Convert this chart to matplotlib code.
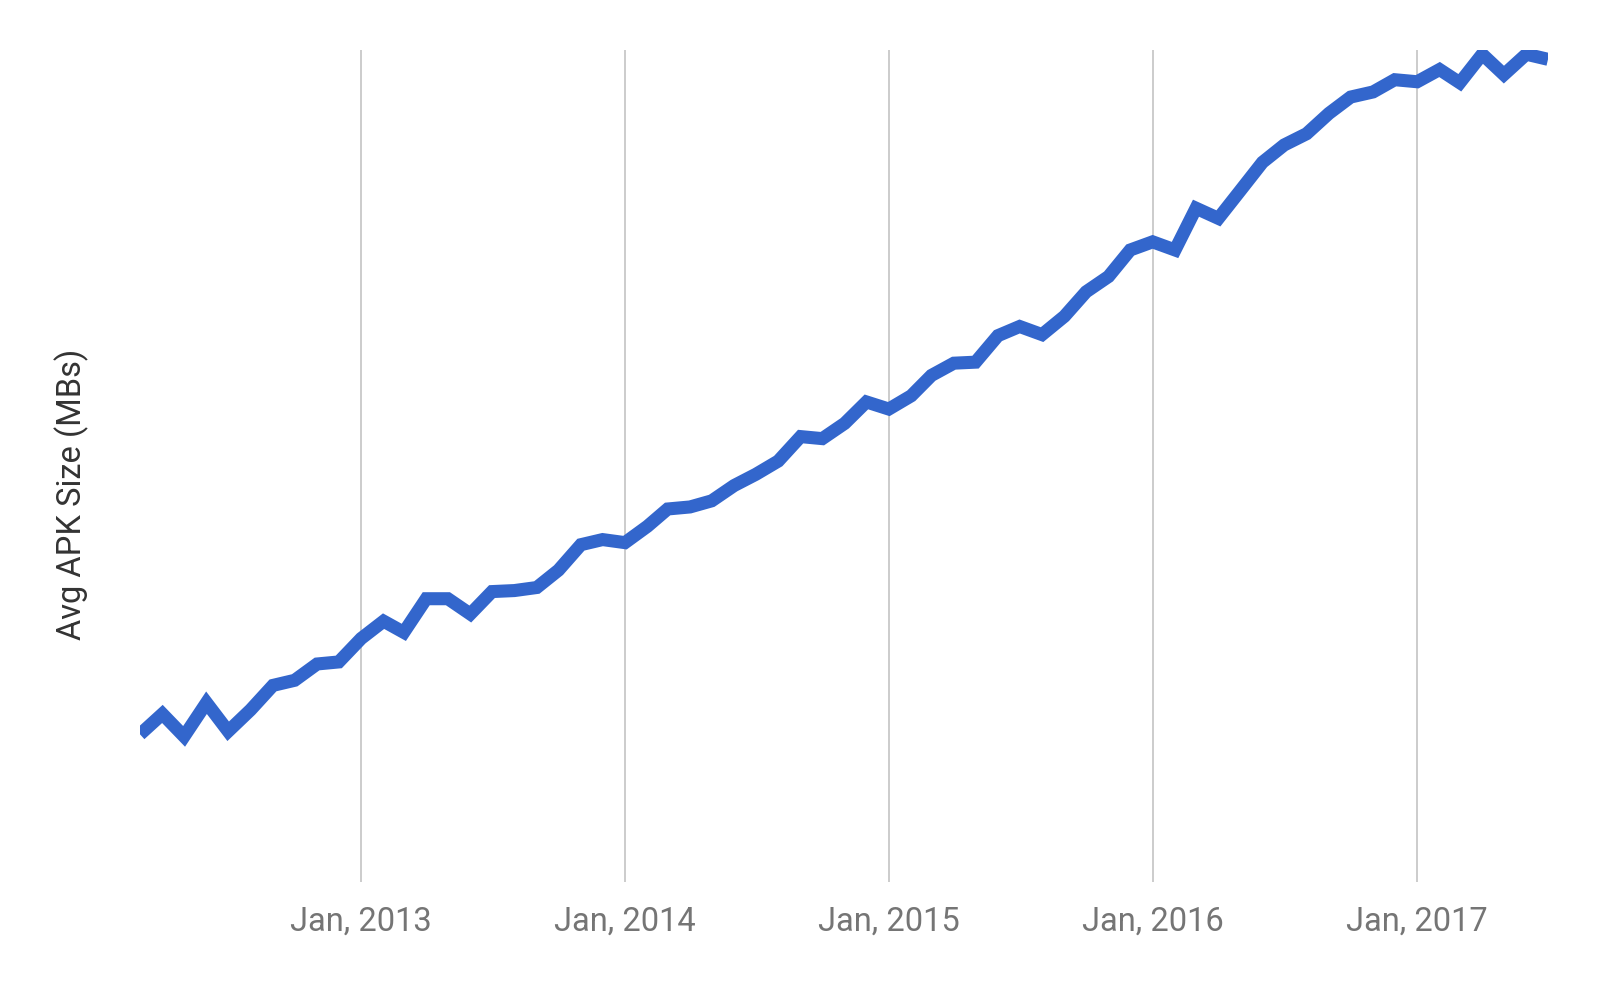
import pandas as pd
import matplotlib
matplotlib.use('Agg')
import matplotlib.pyplot as plt
import matplotlib.dates as mdates

# monthly average APK size, Mar 2012 .. Jul 2017
months = pd.date_range('2012-03-01', '2017-07-01', freq='MS')
apk_size = [14.5, 16.5, 14.3, 17.6, 14.8, 16.9, 19.3, 19.8, 21.4, 21.6,
            23.9, 25.6, 24.5, 27.8, 27.8, 26.3, 28.5, 28.6, 28.9, 30.6, 33.1, 33.6,
            33.3, 34.9, 36.6, 36.8, 37.4, 38.9, 40.0, 41.3, 43.7, 43.5, 45.0, 47.1,
            46.4, 47.7, 49.7, 50.9, 51.0, 53.6, 54.5, 53.7, 55.5, 57.9, 59.4, 62.0,
            62.8, 62.0, 66.1, 65.1, 67.8, 70.6, 72.3, 73.4, 75.4, 77.0, 77.5, 78.7,
            78.5, 79.7, 78.4, 81.2, 79.2, 81.2, 80.7]
tick_dates = pd.to_datetime(['2013-01-01', '2014-01-01', '2015-01-01',
                             '2016-01-01', '2017-01-01'])
tick_labels = ['Jan, 2013', 'Jan, 2014', 'Jan, 2015', 'Jan, 2016', 'Jan, 2017']

plt.rcParams['font.family'] = ['Roboto', 'DejaVu Sans']

fig = plt.figure(figsize=(16, 9.89), dpi=100)
ax = fig.add_axes([0.0875, 0.108, 0.88, 0.8413])

ax.plot(months, apk_size, color='#3366cc', linewidth=9.4,
        solid_joinstyle='miter', solid_capstyle='butt', zorder=3)

ax.set_xlim(months[0], months[-1])
ax.set_ylim(0, 81.6)

ax.set_xticks(tick_dates)
ax.set_xticklabels(tick_labels, fontsize=23.5, color='#757575')
ax.tick_params(axis='x', length=0, pad=17)
ax.set_yticks([])
ax.grid(axis='x', color='#cccccc', linewidth=1.4, zorder=1)

for side in ['top', 'right', 'left', 'bottom']:
    ax.spines[side].set_visible(False)

# label sits a bit below the middle of the plot area in the original
ax.set_ylabel('Avg APK Size (MBs)', fontsize=23.5, color='#333333',
              labelpad=37, y=0.466)

fig.savefig('out.png', dpi=100, facecolor='white')
